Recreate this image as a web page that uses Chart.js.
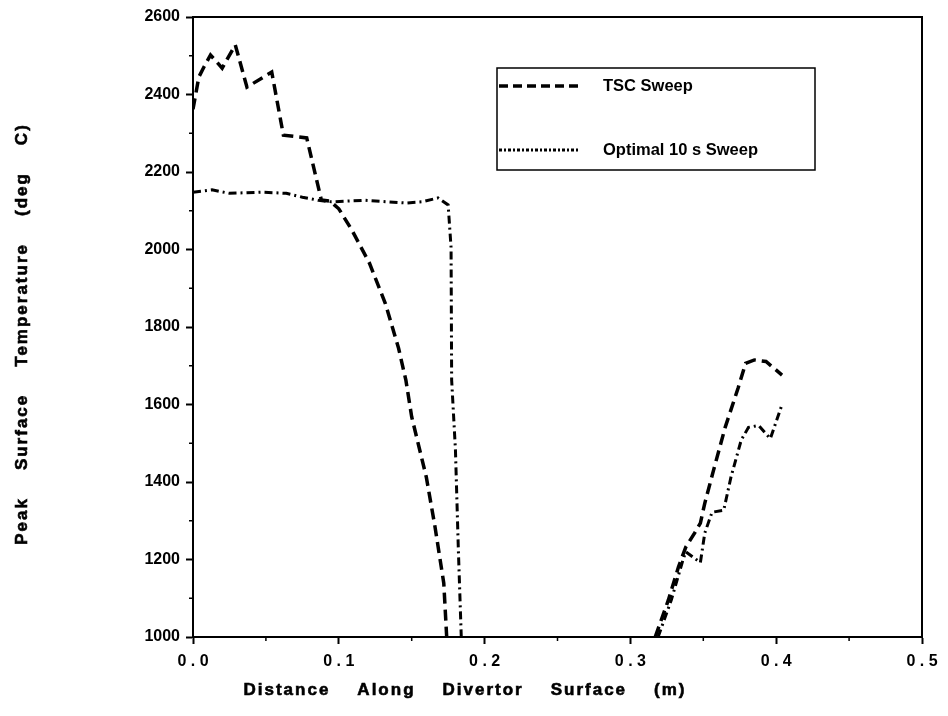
<!DOCTYPE html>
<html>
<head>
<meta charset="utf-8">
<title>Peak Surface Temperature</title>
<script src="https://cdn.jsdelivr.net/npm/chart.js@4/dist/chart.umd.min.js"></script>
<style>
  body { margin: 0; background: #fff; }
  #wrap { width: 948px; height: 716px; }
</style>
</head>
<body>
<div id="wrap"><canvas id="chart" width="948" height="716"></canvas></div>
<script>
// TSC sweep, inner and outer leg (distance in m, temperature in deg C)
const tscXLeft = [0.000, 0.004, 0.0075, 0.012, 0.020, 0.029, 0.037, 0.054, 0.062, 0.078, 0.088, 0.094, 0.100, 0.109, 0.121, 0.132, 0.141, 0.146, 0.150, 0.160, 0.166, 0.172, 0.174];
const tscTLeft = [2362, 2445, 2471, 2502, 2468, 2528, 2419, 2458, 2295, 2288, 2128, 2125, 2105, 2050, 1965, 1860, 1745, 1663, 1568, 1413, 1284, 1139, 1000];
const tscXRight = [0.317, 0.326, 0.333, 0.338, 0.344, 0.348, 0.351, 0.357, 0.365, 0.374, 0.379, 0.385, 0.393, 0.404];
const tscTRight = [1000, 1095, 1181, 1232, 1268, 1294, 1345, 1430, 1541, 1644, 1706, 1715, 1711, 1676];

// optimal 10 s sweep
const optXLeft = [0.000, 0.013, 0.025, 0.047, 0.064, 0.075, 0.086, 0.095, 0.118, 0.146, 0.157, 0.168, 0.175, 0.177, 0.1774, 0.180, 0.182, 0.184];
const optTLeft = [2148, 2154, 2145, 2148, 2145, 2135, 2127, 2123, 2127, 2120, 2123, 2133, 2115, 2005, 1663, 1483, 1225, 1000];
const optXRight = [0.319, 0.328, 0.336, 0.338, 0.348, 0.351, 0.356, 0.364, 0.369, 0.376, 0.381, 0.388, 0.396, 0.404];
const optTRight = [1000, 1095, 1198, 1220, 1192, 1268, 1322, 1327, 1413, 1508, 1541, 1546, 1512, 1600];

const seriesNames = ['TSC Sweep', 'Optimal 10 s Sweep'];

const xTitle = ['Distance', 'Along', 'Divertor', 'Surface', '(m)'];
const yTitle = ['Peak', 'Surface', 'Temperature', '(deg', 'C)'];

const FONT = '"Liberation Sans", Arial, Helvetica, sans-serif';
const tscDash = [11, 6];
const optDash = [8, 4, 2, 4];

function pts(xs, ts) {
  return xs.map((x, i) => ({ x: x, y: ts[i] }));
}

function lineSet(label, data, dash, width) {
  return {
    label: label,
    data: data,
    borderColor: '#000',
    borderWidth: width,
    borderDash: dash,
    pointRadius: 0,
    tension: 0,
    fill: false
  };
}

// words drawn one by one with wide gaps, like the typewriter-style axis labels
function spacedWords(ctx, words, cx, cy, angle) {
  ctx.save();
  ctx.font = 'bold 17px ' + FONT;
  ctx.letterSpacing = '2px';
  ctx.fillStyle = '#000';
  ctx.strokeStyle = '#000';
  ctx.lineWidth = 0.6;
  ctx.textBaseline = 'middle';
  ctx.textAlign = 'left';
  const gap = 27;
  const widths = words.map(w => ctx.measureText(w).width);
  const total = widths.reduce((a, b) => a + b, 0) + gap * (words.length - 1);
  ctx.translate(cx, cy);
  ctx.rotate(angle);
  let x = -total / 2;
  words.forEach((w, i) => {
    ctx.fillText(w, x, 0);
    ctx.strokeText(w, x, 0);
    x += widths[i] + gap;
  });
  ctx.restore();
}

const decorations = {
  id: 'decorations',
  afterDraw(chart) {
    const ctx = chart.ctx;
    const area = chart.chartArea;
    const xs = chart.scales.x;
    const ys = chart.scales.y;

    ctx.save();
    ctx.strokeStyle = '#000';

    // top and right frame
    ctx.lineWidth = 2;
    ctx.beginPath();
    ctx.moveTo(area.left, area.top);
    ctx.lineTo(area.right, area.top);
    ctx.lineTo(area.right, area.bottom);
    ctx.stroke();

    // minor ticks
    ctx.lineWidth = 1.5;
    ctx.beginPath();
    for (let v = 0.05; v < 0.5; v += 0.1) {
      const px = xs.getPixelForValue(v);
      ctx.moveTo(px, area.bottom);
      ctx.lineTo(px, area.bottom + 4);
    }
    for (let v = 1100; v < 2600; v += 200) {
      const py = ys.getPixelForValue(v);
      ctx.moveTo(area.left, py);
      ctx.lineTo(area.left - 4, py);
    }
    ctx.stroke();

    // legend box
    const lx = 497, ly = 68, lw = 318, lh = 102;
    ctx.lineWidth = 1.5;
    ctx.strokeRect(lx, ly, lw, lh);

    const rows = [
      { y: 86, dash: [9, 5], width: 3.5 },
      { y: 150, dash: [3, 2, 2, 2], width: 3 }
    ];
    ctx.font = 'bold 16.5px ' + FONT;
    ctx.fillStyle = '#000';
    ctx.textBaseline = 'middle';
    rows.forEach((r, i) => {
      ctx.setLineDash(r.dash);
      ctx.lineWidth = r.width;
      ctx.beginPath();
      ctx.moveTo(lx + 2, r.y);
      ctx.lineTo(lx + 83, r.y);
      ctx.stroke();
      ctx.setLineDash([]);
      ctx.fillText(seriesNames[i], 603, r.y);
    });
    ctx.restore();

    // axis titles
    spacedWords(ctx, xTitle, 465, 690, 0);
    spacedWords(ctx, yTitle, 22, 334, -Math.PI / 2);
  }
};

const ctx = document.getElementById('chart').getContext('2d');

new Chart(ctx, {
  type: 'line',
  data: {
    datasets: [
      lineSet(seriesNames[0], pts(tscXLeft, tscTLeft), tscDash, 3.5),
      lineSet(seriesNames[0], pts(tscXRight, tscTRight), tscDash, 3.5),
      lineSet(seriesNames[1], pts(optXLeft, optTLeft), optDash, 3),
      lineSet(seriesNames[1], pts(optXRight, optTRight), optDash, 3)
    ]
  },
  options: {
    responsive: false,
    animation: false,
    layout: { padding: { left: 0, top: 17, right: 26, bottom: 0 } },
    plugins: {
      legend: { display: false },
      tooltip: { enabled: false }
    },
    scales: {
      x: {
        type: 'linear',
        min: 0,
        max: 0.5,
        afterFit(scale) { scale.height = 79; },
        ticks: {
          stepSize: 0.1,
          color: '#000',
          padding: 8,
          maxRotation: 0,
          font: { family: FONT, size: 16, weight: 'bold' },
          callback: v => v.toFixed(1).split('').join(' ')
        },
        grid: {
          drawOnChartArea: false,
          drawTicks: true,
          tickLength: 7,
          tickWidth: 2,
          tickColor: '#000'
        },
        border: { display: true, color: '#000', width: 2 }
      },
      y: {
        min: 1000,
        max: 2600,
        afterFit(scale) { scale.width = 193; },
        ticks: {
          stepSize: 200,
          color: '#000',
          padding: 6,
          font: { family: FONT, size: 16, weight: 'bold' },
          callback: v => String(v)
        },
        grid: {
          drawOnChartArea: false,
          drawTicks: true,
          tickLength: 7,
          tickWidth: 2,
          tickColor: '#000'
        },
        border: { display: true, color: '#000', width: 2 }
      }
    }
  },
  plugins: [decorations]
});
</script>
</body>
</html>
